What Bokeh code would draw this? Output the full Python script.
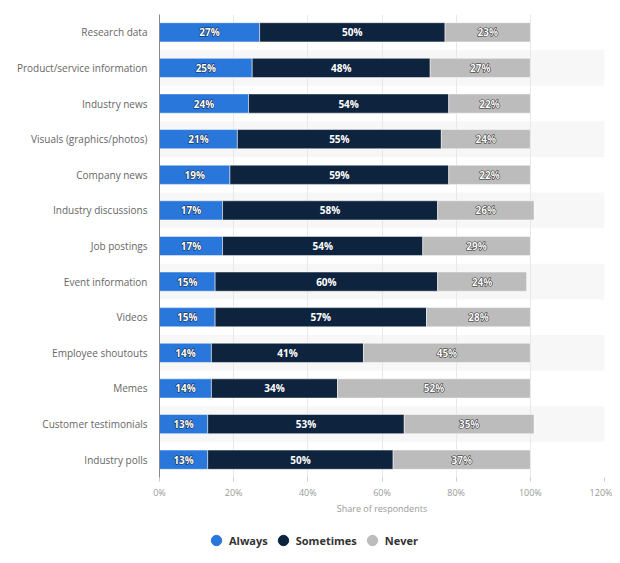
from bokeh.plotting import figure
from bokeh.layouts import column
from bokeh.models import (ColumnDataSource, FactorRange, FixedTicker, PrintfTickFormatter,
                          Legend, LegendItem)
from bokeh.core.properties import value
from bokeh.embed import file_html
from bokeh.resources import INLINE

categories = ["Research data", "Product/service information", "Industry news",
              "Visuals (graphics/photos)", "Company news", "Industry discussions",
              "Job postings", "Event information", "Videos", "Employee shoutouts",
              "Memes", "Customer testimonials", "Industry polls"]
always = [27, 25, 24, 21, 19, 17, 17, 15, 15, 14, 14, 13, 13]
sometimes = [50, 48, 54, 55, 59, 58, 54, 60, 57, 41, 34, 53, 50]
never = [23, 27, 22, 24, 22, 26, 29, 24, 28, 45, 52, 35, 37]
series_names = ["Always", "Sometimes", "Never"]
colors = ["#2a77dc", "#0e233d", "#bcbcbc"]
x_ticks = [0, 20, 40, 60, 80, 100, 120]

FONT = "Open Sans"

p = figure(width=612, height=517, output_backend="svg", toolbar_location=None,
           y_range=FactorRange(factors=list(reversed(categories))),
           x_range=(0, 120), min_border_left=159, min_border_right=8,
           min_border_top=14, min_border_bottom=10, outline_line_color=None)

# alternating band shading
band_cats = [c for i, c in enumerate(categories) if i % 2 == 1]
p.hbar(y=band_cats, left=0, right=x_ticks[-1], height=1.0,
       fill_color="#f7f7f7", line_color=None, level="underlay")

a_end = always
s_end = [a + s for a, s in zip(always, sometimes)]
n_end = [a + s + n for a, s, n in zip(always, sometimes, never)]

src = ColumnDataSource(dict(
    cat=categories,
    a0=[0] * len(categories), a1=a_end, s1=s_end, n1=n_end,
    am=[v / 2 for v in a_end],
    sm=[(a + b) / 2 for a, b in zip(a_end, s_end)],
    nm=[(a + b) / 2 for a, b in zip(s_end, n_end)],
    at=[f"{v}%" for v in always], st=[f"{v}%" for v in sometimes],
    nt=[f"{v}%" for v in never],
))

H = 0.54
p.hbar(y="cat", left="a0", right="a1", height=H, source=src,
       fill_color=colors[0], line_color="white", line_width=0.5)
p.hbar(y="cat", left="a1", right="s1", height=H, source=src,
       fill_color=colors[1], line_color="white", line_width=0.5)
p.hbar(y="cat", left="s1", right="n1", height=H, source=src,
       fill_color=colors[2], line_color="white", line_width=0.5)

common = dict(text_font=value(FONT), text_font_size="10px", text_font_style="bold",
              text_align="center", text_baseline="middle", source=src)
# dark halo underneath, white text on top
p.text(x="am", y="cat", text="at", text_color="#0e233d", text_outline_color="#0e233d", **common)
p.text(x="nm", y="cat", text="nt", text_color="#222222", text_outline_color="#222222", **common)
p.text(x="am", y="cat", text="at", text_color="white", **common)
p.text(x="sm", y="cat", text="st", text_color="white", **common)
p.text(x="nm", y="cat", text="nt", text_color="white", **common)

# axes
p.yaxis.major_tick_line_color = None
p.yaxis.minor_tick_line_color = None
p.yaxis.axis_line_color = "#888888"
p.yaxis.major_label_text_font = FONT
p.yaxis.major_label_text_font_size = "10px"
p.yaxis.major_label_text_color = "#666666"
p.yaxis.major_label_standoff = 6

p.xaxis.ticker = FixedTicker(ticks=x_ticks)
p.xaxis.formatter = PrintfTickFormatter(format="%d%%")
p.xaxis.axis_line_color = None
p.xaxis.major_tick_line_color = "#cccccc"
p.xaxis.major_tick_in = 0
p.xaxis.major_tick_out = 4
p.xaxis.minor_tick_line_color = None
p.xaxis.major_label_text_font = FONT
p.xaxis.major_label_text_font_size = "9px"
p.xaxis.major_label_text_color = "#999999"
p.xaxis.major_label_standoff = 4
p.xaxis.axis_label = "Share of respondents"
p.xaxis.axis_label_text_font = FONT
p.xaxis.axis_label_text_font_size = "9px"
p.xaxis.axis_label_text_font_style = "normal"
p.xaxis.axis_label_text_color = "#999999"
p.xaxis.axis_label_standoff = 0

p.ygrid.grid_line_color = None
p.xgrid.grid_line_color = "#e8e8e8"
p.xgrid.grid_line_width = 1

# legend in its own strip below (its frame is aligned with the chart frame)
lf = figure(width=612, height=40, output_backend="svg", toolbar_location=None,
            x_range=(0, 1), y_range=(0, 1), min_border=0, outline_line_color=None)
lf.axis.visible = False
lf.grid.visible = False
leg_src = ColumnDataSource(dict(x=[float("nan")], y=[float("nan")]))
items = []
for name, col in zip(series_names, colors):
    r = lf.scatter(x="x", y="y", source=leg_src, marker="circle", size=11,
                   fill_color=col, line_color=col)
    items.append(LegendItem(label=name, renderers=[r]))
legend = Legend(items=items, orientation="horizontal", location=(44, 4),
                label_text_font=FONT, label_text_font_size="11px",
                label_text_font_style="bold", label_text_color="#333333",
                border_line_color=None, background_fill_alpha=0,
                glyph_width=26, glyph_height=26, spacing=2, padding=0, margin=0,
                label_standoff=0)
lf.add_layout(legend)

layout = column(p, lf, spacing=0)
open("out.html", "w").write(file_html(layout, INLINE))
